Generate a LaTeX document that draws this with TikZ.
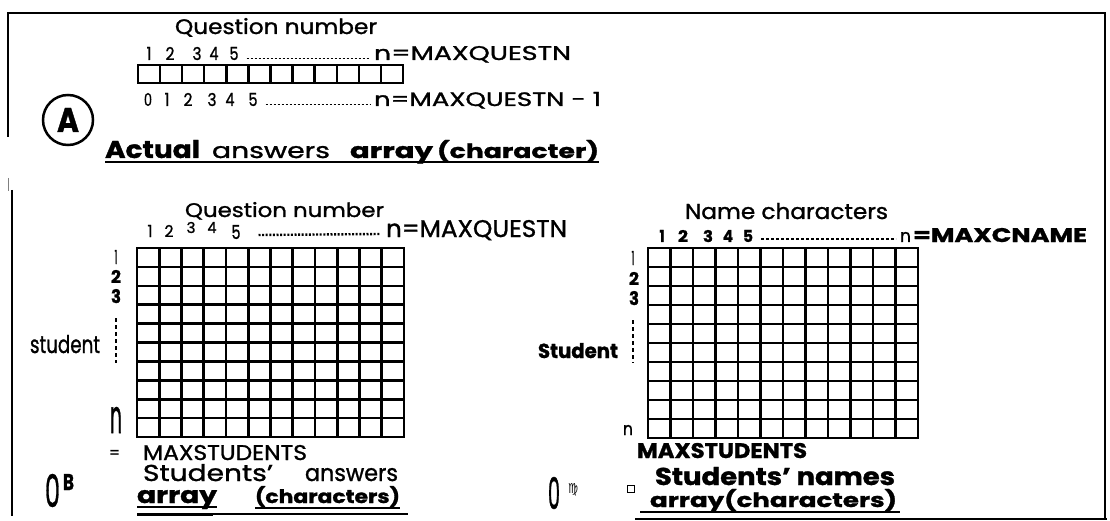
\documentclass[tikz,border=0pt]{standalone}
\usepackage{fontspec}
\usepackage{graphicx}
\setmainfont{Poppins}[FakeBold=1.2]
\newfontfamily\symfont{DejaVu Sans}
\newcommand{\fitb}[3]{\resizebox{#1pt}{#2pt}{#3}}
\begin{document}
\begin{tikzpicture}[x=1pt,y=-1pt,
  lbl/.style={inner sep=0pt, outer sep=0pt, anchor=base west},
  cnt/.style={inner sep=0pt, outer sep=0pt, anchor=base},
  gridline/.style={line width=2.6pt, line cap=rect},
  boxline/.style={line width=2.4pt, line cap=rect},
  frameline/.style={line width=2.2pt},
  uline/.style={line width=2.2pt},
  dotA/.style={line width=1.4pt, dash pattern=on 2pt off 2pt},
  dotB/.style={line width=2.4pt, dash pattern=on 2pt off 1.6pt},
  dotC/.style={line width=1.4pt, dash pattern=on 3pt off 2pt},
  vdash/.style={line width=1.2pt, dash pattern=on 4pt off 3pt}]
\useasboundingbox (0,0) rectangle (1110,521);
% ---------- frame ----------
\draw[frameline] (8,137) -- (8,13) -- (1105,13) -- (1105,519);
\draw[gray, line width=1pt] (8,178) -- (8,191);
\draw[frameline] (12,190) -- (12,516);
\draw[line width=3pt] (137,514) -- (213,514);
\draw[line width=1.5pt] (213,514) -- (408,514);
\draw[line width=1.5pt] (635,519) -- (1107,519);

% ---------- part A ----------
\node[lbl] (qA) at (175,34) {\fitb{202}{16}{Question number}};
\node[cnt] (ra1) at (149,60) {\fitb{5}{13}{1}};
\foreach \d/\x in {2/170,3/197,4/214,5/234}
  \node[cnt] (ra\d) at (\x,60) {\fitb{9}{13}{\d}};
\node[lbl] (nA) at (374,60) {\fitb{197}{14}{n=MAXQUESTN}};
\draw[dotA] ([xshift=8pt,yshift=1.5pt]ra5.base east) -- ([xshift=-4pt,yshift=1.5pt]nA.base west);
\draw[boxline] (138,65) rectangle (403,83);
\foreach \i in {1,...,11}
  \draw[boxline] ({138+\i*22.083},65) -- ({138+\i*22.083},83);
\node[cnt] (rb0) at (148,106) {\fitb{8}{13}{0}};
\node[cnt] (rb1) at (167,106) {\fitb{5}{13}{1}};
\foreach \d/\x in {2/188,3/212,4/230,5/253}
  \node[cnt] (rb\d) at (\x,106) {\fitb{9}{13}{\d}};
\node[lbl] (nA1) at (374,106) {\fitb{227}{14}{n=MAXQUESTN - 1}};
\draw[dotA] ([xshift=8pt,yshift=1.5pt]rb5.base east) -- ([xshift=-4pt,yshift=1.5pt]nA1.base west);
\node[draw, circle, line width=2.5pt, minimum size=50pt, inner sep=0pt] (circA) at (68,120) {\fitb{22}{24}{\bfseries A}};
\node[lbl] (act) at (105,158) {\fitb{95}{18}{\bfseries Actual}};
\node[lbl] (ans) at (212,158) {\fitb{118}{12}{answers}};
\node[lbl] (arr) at (350,158) {\fitb{83}{12}{\bfseries array}};
\node[lbl] (chr) at (437,158) {\fitb{162}{18}{\bfseries (character)}};
\draw[uline] ([yshift=-4pt]act.base west) -- ([yshift=-4pt]chr.base east);

% ---------- part B ----------
\node[lbl] (qB) at (185,217) {\fitb{199}{15}{Question number}};
\node[cnt] (cb1) at (150,237) {\fitb{5}{12}{1}};
\node[cnt] (cb2) at (169,237) {\fitb{9}{12}{2}};
\node[cnt] (cb3) at (191,233) {\fitb{9}{11}{3}};
\node[cnt] (cb4) at (212,233) {\fitb{9}{11}{4}};
\node[cnt] (cb5) at (236,239) {\fitb{9}{14}{5}};
\node[lbl] (nB) at (386,237) {\fitb{181}{17}{n=MAXQUESTN}};
\draw[dotB] ([xshift=18pt,yshift=4pt]cb5.base east) -- ([xshift=-6pt,yshift=3pt]nB.base west);
\draw[gridline] (137,248) rectangle (404,437);
\foreach \i in {1,...,11}
  \draw[gridline] ({137+\i*22.25},248) -- ({137+\i*22.25},437);
\foreach \j in {1,...,9}
  \draw[gridline] (137,{248+\j*18.9}) -- (404,{248+\j*18.9});
\node[cnt] (sb1) at (116,264) {\fitb{3}{14}{1}};
\node[cnt] (sb2) at (116,283) {\fitb{10}{13}{\bfseries 2}};
\node[cnt] (sb3) at (116,303) {\fitb{10}{14}{\bfseries 3}};
\coordinate (dB1) at (116,318);
\coordinate (dB2) at (116,363);
\draw[vdash] (dB1) -- (dB2);
\node[lbl] (stB) at (30,353) {\fitb{70}{18}{student}};
\node[lbl] (nrB) at (110,433) {\fitb{12}{26}{n}};
\node[lbl] (eqB) at (109,458) {\fitb{11}{8}{=}};
\node[lbl] (msB) at (143,460) {\fitb{164}{15}{MAXSTUDENTS}};
\node[lbl, inner xsep=1pt] (zB) at (44,507) {\fitb{15}{33}{0}};
\node[lbl] (bB) at (63,490) {\fitb{11}{16}{\bfseries B}};
\node[lbl] (sB) at (143,481) {\fitb{130}{17}{Students’}};
\node[lbl] (aB) at (305,481) {\fitb{93}{13}{answers}};
\node[lbl] (arB) at (137,503) {\fitb{80}{13}{\bfseries array}};
\node[lbl] (chB) at (255,503) {\fitb{145}{17}{\bfseries (characters)}};
\draw[uline] ([yshift=-4pt]arB.base west) -- ([yshift=-4pt]arB.base east);
\draw[uline] ([yshift=-5pt]chB.base west) -- ([yshift=-5pt]chB.base east);

% ---------- part C ----------
\node[lbl] (nc) at (685,219) {\fitb{203}{16}{Name characters}};
\node[cnt] (cc1) at (662,242) {\fitb{5}{12}{\bfseries 1}};
\foreach \d/\x in {2/683,3/708,4/728,5/748}
  \node[cnt] (cc\d) at (\x,242) {\fitb{10}{12}{\bfseries \d}};
\node[lbl] (nC) at (900,242) {\fitb{11}{10}{n}};
\node[lbl] (mcn) at (913,242) {\fitb{174}{14}{\bfseries =MAXCNAME}};
\draw[dotC] ([xshift=8pt,yshift=3pt]cc5.base east) -- ([xshift=-4pt,yshift=3pt]nC.base west);
\draw[gridline] (648,248) rectangle (918,438);
\foreach \i in {1,...,11}
  \draw[gridline] ({648+\i*22.5},248) -- ({648+\i*22.5},438);
\foreach \j in {1,...,9}
  \draw[gridline] (648,{248+\j*19}) -- (918,{248+\j*19});
\node[cnt] (sc1) at (633,265) {\fitb{3}{14}{1}};
\node[cnt] (sc2) at (634,285) {\fitb{10}{13}{\bfseries 2}};
\node[cnt] (sc3) at (634,305) {\fitb{10}{14}{\bfseries 3}};
\coordinate (dC1) at (633,320);
\coordinate (dC2) at (633,363);
\draw[vdash] (dC1) -- (dC2);
\node[lbl] (stC) at (538,358) {\fitb{80}{15}{\bfseries Student}};
\node[lbl] (nrC) at (623,435) {\fitb{10}{10}{n}};
\node[lbl] (msC) at (637,458) {\fitb{170}{15}{\bfseries MAXSTUDENTS}};
\node[lbl] (snC) at (655,485) {\fitb{240}{18}{\bfseries Students' names}};
\node[lbl] (acC) at (650,507) {\fitb{247}{18}{\bfseries array(characters)}};
\draw[uline] ([xshift=-10pt,yshift=-5pt]acC.base west) -- ([xshift=3pt,yshift=-5pt]acC.base east);
\node[draw, line width=1pt, minimum size=7pt, inner sep=0pt] (sqC) at (631,489) {};
\node[lbl, inner xsep=1pt] (zC) at (547,509) {\fitb{12}{32}{0}};
\node[lbl] (vC) at (568,493) {\fitb{10}{10}{\symfont ♍}};
\end{tikzpicture}
\end{document}
